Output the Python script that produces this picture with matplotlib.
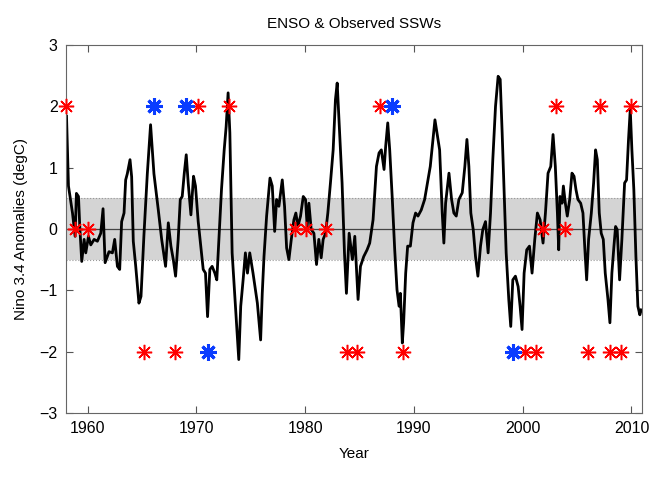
import numpy as np
import matplotlib
matplotlib.use('Agg')
import matplotlib.pyplot as plt

plt.rcParams['font.family'] = ['Liberation Sans', 'DejaVu Sans']

# Nino 3.4 anomalies (year, degC)
years = [1958.05, 1958.23, 1958.6, 1958.84, 1958.96, 1959.15, 1959.27, 1959.45, 1959.67, 1959.82,
         1960.07, 1960.28, 1960.59, 1960.89, 1961.2, 1961.41, 1961.6, 1961.96, 1962.27, 1962.48,
         1962.73, 1962.94, 1963.12, 1963.34, 1963.49, 1963.64, 1963.89, 1964.04, 1964.19, 1964.41,
         1964.71, 1964.9, 1965.17, 1965.48, 1965.78, 1966.09,
         1966.49, 1966.8, 1967.16, 1967.41, 1967.65, 1967.87, 1968.08, 1968.32, 1968.51, 1968.69,
         1968.88, 1969.06, 1969.24, 1969.49, 1969.73, 1969.91, 1970.16, 1970.4, 1970.62, 1970.83,
         1971.02, 1971.23, 1971.44, 1971.69, 1971.87, 1972.06, 1972.3, 1972.55, 1972.73, 1972.91,
         1973.07, 1973.28, 1973.58, 1973.89, 1974.07, 1974.29, 1974.5, 1974.69, 1974.9, 1975.2,
         1975.6, 1975.9, 1976.05, 1976.21, 1976.45, 1976.76, 1976.97, 1977.19, 1977.37, 1977.58,
         1977.89, 1978.1, 1978.29, 1978.5, 1978.72, 1978.96, 1979.14, 1979.33, 1979.57, 1979.82,
         1980.03, 1980.18, 1980.34, 1980.55, 1980.8, 1981.04, 1981.25, 1981.47, 1981.65, 1981.87,
         1982.08, 1982.32, 1982.57, 1982.78, 1982.94, 1983.12, 1983.39, 1983.61, 1983.79, 1984.04,
         1984.34, 1984.56, 1984.86, 1985.08, 1985.38, 1985.69, 1985.93, 1986.24, 1986.55, 1986.79,
         1987.0, 1987.25, 1987.4, 1987.59, 1987.77, 1988.01, 1988.23, 1988.44, 1988.63, 1988.75,
         1988.93, 1989.05, 1989.24, 1989.42, 1989.67, 1989.91, 1990.15, 1990.37, 1990.67, 1990.98,
         1991.29, 1991.5, 1991.75, 1991.93, 1992.11, 1992.36, 1992.6, 1992.75,
         1992.91, 1993.22, 1993.46, 1993.67, 1993.89, 1994.13, 1994.44, 1994.68, 1994.87, 1995.05,
         1995.23, 1995.45, 1995.66, 1995.88, 1996.12, 1996.33, 1996.58, 1996.82, 1997.04, 1997.25,
         1997.5, 1997.74, 1997.93, 1998.11, 1998.29, 1998.48, 1998.72, 1998.9, 1999.09, 1999.33,
         1999.58, 1999.76, 1999.94, 2000.13, 2000.37, 2000.62, 2000.86, 2001.11, 2001.35, 2001.6,
         2001.87, 2002.09, 2002.33, 2002.58, 2002.79, 2003.0, 2003.19, 2003.31, 2003.43, 2003.62,
         2003.74, 2003.92, 2004.1, 2004.32, 2004.53, 2004.72, 2004.9, 2005.08, 2005.33, 2005.54,
         2005.7, 2005.88, 2006.06, 2006.31, 2006.52, 2006.7, 2006.86, 2007.04, 2007.22, 2007.41,
         2007.59, 2007.84, 2008.02, 2008.2, 2008.39, 2008.54, 2008.69, 2008.91, 2009.12, 2009.37,
         2009.55, 2009.73, 2009.89, 2010.04, 2010.22, 2010.41, 2010.59, 2010.77, 2010.9]
nino34 = [1.84, 0.70, 0.26, -0.12, 0.58, 0.53, 0.04, -0.53, -0.17, -0.39,
          -0.12, -0.26, -0.17, -0.20, -0.07, 0.33, -0.55, -0.37, -0.39, -0.17,
          -0.61, -0.66, 0.12, 0.26, 0.80, 0.90, 1.13, 0.85, -0.20, -0.60,
          -1.21, -1.10, -0.10, 0.90, 1.70, 0.90,
          0.31, -0.17, -0.61, 0.10, -0.28, -0.50, -0.77, -0.17, 0.48, 0.53,
          0.91, 1.21, 0.75, 0.23, 0.86, 0.70, 0.12, -0.28, -0.66, -0.72,
          -1.43, -0.66, -0.61, -0.72, -0.83, -0.17, 0.64, 1.29, 1.67, 2.22,
          1.57, -0.39, -1.26, -2.13, -1.26, -0.83, -0.39, -0.72, -0.39, -0.72,
          -1.21, -1.81, -1.05, -0.45, 0.21, 0.83, 0.70, -0.04, 0.48, 0.37,
          0.80, 0.37, -0.31, -0.50, -0.17, 0.15, 0.26, 0.04, 0.21, 0.53,
          0.48, 0.04, 0.42, -0.01, -0.07, -0.58, -0.17, -0.47, -0.17, -0.07,
          0.26, 0.75, 1.29, 2.11, 2.38, 1.73, 0.75, -0.39, -1.05, -0.07,
          -0.50, -0.12, -1.15, -0.61, -0.45, -0.34, -0.23, 0.15, 1.02, 1.24,
          1.29, 0.97, 1.35, 1.73, 1.29, 0.48, -0.34, -0.99, -1.26, -1.05,
          -1.86, -1.53, -0.72, -0.28, -0.28, 0.10, 0.26, 0.21, 0.31, 0.48,
          0.80, 1.02, 1.46, 1.78, 1.57, 1.29, 0.26, -0.23,
          0.42, 0.91, 0.48, 0.26, 0.21, 0.48, 0.59, 1.02, 1.46, 1.02,
          0.26, -0.01, -0.45, -0.77, -0.28, -0.01, 0.12, -0.39, 0.26, 1.13,
          2.00, 2.49, 2.44, 1.57, 0.64, -0.39, -1.15, -1.59, -0.83, -0.77,
          -0.94, -1.26, -1.64, -0.72, -0.34, -0.28, -0.72, -0.17, 0.26, 0.15,
          -0.23, 0.26, 0.91, 1.02, 1.54, 1.02, 0.26, -0.34, 0.53, 0.42,
          0.70, 0.42, 0.21, 0.48, 0.91, 0.86, 0.64, 0.48, 0.42, 0.26,
          -0.28, -0.83, -0.17, 0.26, 0.75, 1.29, 1.13, 0.26, -0.07, -0.17,
          -0.72, -1.15, -1.53, -0.72, -0.28, 0.04, -0.01, -0.83, -0.17, 0.75,
          0.80, 1.46, 1.95, 1.29, 0.64, -0.45, -1.26, -1.40, -1.32]

# observed SSW events
red_years = [1958.0, 1970.1, 1973.0, 1986.9, 2003.05, 2007.15, 2010.0,
             1958.8, 1960.0, 1979.05, 1980.1, 1981.9, 2001.9, 2003.9,
             1965.2, 1968.0, 1983.85, 1984.8, 1989.0, 2000.25, 2001.25, 2006.0, 2008.0, 2009.0]
red_vals = [2, 2, 2, 2, 2, 2, 2,
            0, 0, 0, 0, 0, 0, 0,
            -2, -2, -2, -2, -2, -2, -2, -2, -2, -2]
blue_years = [1966.05, 1969.0, 1988.0, 1971.1, 1999.1]
blue_vals = [2, 2, 2, -2, -2]

fig = plt.figure(figsize=(6.63, 4.79), dpi=100)
ax = fig.add_axes([0.0995, 0.138, 0.8685, 0.768])

ax.axhspan(-0.5, 0.5, facecolor='#d4d4d4', edgecolor='none', zorder=0)
ax.axhline(0.5, color='#999999', lw=0.8, ls=':', zorder=1)
ax.axhline(-0.5, color='#999999', lw=0.8, ls=':', zorder=1)
ax.axhline(0, color='#444444', lw=0.9, zorder=1)

ax.plot(years, nino34, color='black', lw=2.0, zorder=2)

star = (8, 2, 0)
ax.plot(red_years, red_vals, ls='none', marker=star, ms=11, mew=1.1,
        mec='#ff0000', mfc='none', clip_on=False, zorder=3)
ax.plot(blue_years, blue_vals, ls='none', marker=star, ms=12, mew=2.2,
        mec='#0a3cff', mfc='none', clip_on=False, zorder=3)

ax.set_xlim(1958.0, 2010.95)
ax.set_ylim(-3, 3)
ax.set_xticks([1960, 1970, 1980, 1990, 2000, 2010])
ax.set_yticks([-3, -2, -1, 0, 1, 2, 3])
ax.tick_params(direction='in', top=True, right=True, length=5, width=0.8,
               colors='#555555', labelcolor='black', labelsize=11.5, pad=6)
for s in ax.spines.values():
    s.set_color('#666666')
    s.set_linewidth(0.8)

ax.set_title('ENSO & Observed SSWs', fontsize=11, pad=12)
ax.set_xlabel('Year', fontsize=11, labelpad=8)
ax.set_ylabel('Nino 3.4 Anomalies (degC)', fontsize=11, labelpad=8)

fig.savefig('out.png', dpi=100)
